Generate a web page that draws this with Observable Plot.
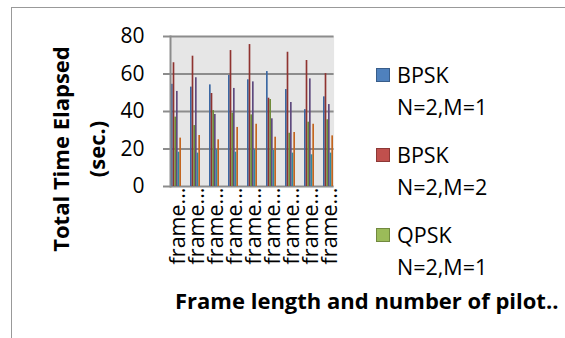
<!DOCTYPE html>
<html><head><meta charset="utf-8">
<script src="https://cdn.jsdelivr.net/npm/d3@7"></script>
<script src="https://cdn.jsdelivr.net/npm/@observablehq/plot@0.6"></script>
<style>
body{margin:0;background:#fff;}
#wrap{position:relative;width:565px;height:338px;overflow:hidden;font-family:"Open Sans",Lato,sans-serif;color:#000;}
#border{position:absolute;left:11px;top:7px;width:700px;height:500px;border:1.5px solid #999;box-sizing:border-box;}
#chart{position:absolute;left:0;top:0;}
.ytitle{position:absolute;left:-72px;top:113px;width:300px;height:72px;line-height:36px;text-align:center;font-weight:bold;font-size:22px;transform:rotate(-90deg);white-space:nowrap;}
.xtitle{position:absolute;left:175px;top:288px;font-weight:bold;font-size:22px;line-height:24px;white-space:nowrap;}
.leg{position:absolute;left:376px;font-size:21.5px;line-height:32px;}
.leg .sw{position:absolute;left:0;top:9px;width:14px;height:14px;box-sizing:border-box;border:1px solid;}
.leg .tx{position:absolute;left:21px;top:0;white-space:nowrap;}
</style></head><body>
<div id="wrap">
<div id="border"></div>
<div id="chart"></div>
<div class="ytitle">Total Time Elapsed<br>(sec.)</div>
<div class="xtitle">Frame length and number of pilot..</div>
<div id="legend"></div>
</div>
<script>
const categories = ["frame 1","frame 2","frame 3","frame 4","frame 5","frame 6","frame 7","frame 8","frame 9"];
const tickLabels = ["frame...","frame...","frame...","frame...","frame...","frame...","frame...","frame...","frame..."];
const yTicks = [0, 20, 40, 60, 80];
const seriesNames = ["BPSK N=2,M=1","BPSK N=2,M=2","QPSK N=2,M=1","Series 4","Series 5","Series 6"];
const legendNames = [["BPSK","N=2,M=1"],["BPSK","N=2,M=2"],["QPSK","N=2,M=1"]];
const bpskN2M1 = [54.5, 53.0, 54.2, 59.2, 56.9, 61.3, 51.7, 41.0, 47.8];
const bpskN2M2 = [66.0, 69.5, 49.6, 72.5, 75.7, 47.1, 71.6, 67.2, 60.2];
const qpskN2M1 = [37.0, 32.5, 40.5, 39.1, 38.2, 46.4, 28.4, 34.3, 35.6];
const series4  = [50.7, 58.0, 38.4, 52.3, 55.8, 36.1, 44.8, 57.4, 43.7];
const series5  = [18.3, 17.8, 19.6, 18.3, 19.6, 19.2, 17.8, 16.9, 17.8];
const series6  = [25.8, 27.2, 24.9, 31.5, 33.2, 26.3, 28.8, 33.2, 27.0];
const barColors = ["#3b68a3","#8f3330","#6f8b3a","#5e4a7e","#2f8aa0","#c3651f"];
const legendFill = ["#4F81BD","#C0504D","#9BBB59"];
const legendStroke = ["#385D8A","#8C3836","#71893F"];

const allSeries = [bpskN2M1, bpskN2M2, qpskN2M1, series4, series5, series6];
const W = 10/6;
const barMarks = allSeries.map((vals, k) =>
  Plot.barY(categories.map((c, i) => ({cat: c, v: vals[i], s: seriesNames[k]})), {
    x: "cat", y: "v", fill: barColors[k], insetLeft: k*W, insetRight: (5-k)*W
  })
);

const chart = Plot.plot({
  width: 565, height: 338,
  marginLeft: 170, marginRight: 231.4, marginTop: 36, marginBottom: 152,
  style: {fontFamily: "'Open Sans', Lato, sans-serif", background: "transparent", color: "#000"},
  x: {domain: categories, paddingInner: 0.479, paddingOuter: 0},
  y: {domain: [0, 80]},
  marks: [
    Plot.frame({fill: "#e6e6e6", stroke: null}),
    Plot.gridY(yTicks, {stroke: "#8c8c8c", strokeOpacity: 1, strokeWidth: 2}),
    ...barMarks,
    Plot.frame({anchor: "left", stroke: "#8c8c8c", strokeWidth: 2}),
    Plot.axisY(yTicks, {tickSize: 7, tickPadding: 19, fontSize: 21, stroke: "#8c8c8c", strokeWidth: 2, label: null}),
    Plot.axisX({tickSize: 0, tickPadding: 1, tickRotate: -90, fontSize: 21.5, dx: 2, label: null, tickFormat: (d, i) => tickLabels[categories.indexOf(d)]})
  ]
});
document.getElementById("chart").appendChild(chart);

const leg = document.getElementById("legend");
const tops = [59, 139, 219];
legendNames.forEach((n, i) => {
  const d = document.createElement("div");
  d.className = "leg";
  d.style.top = tops[i] + "px";
  d.innerHTML = `<div class="sw" style="background:${legendFill[i]};border-color:${legendStroke[i]}"></div><div class="tx">${n[0]}<br>${n[1]}</div>`;
  leg.appendChild(d);
});
</script>
</body></html>
